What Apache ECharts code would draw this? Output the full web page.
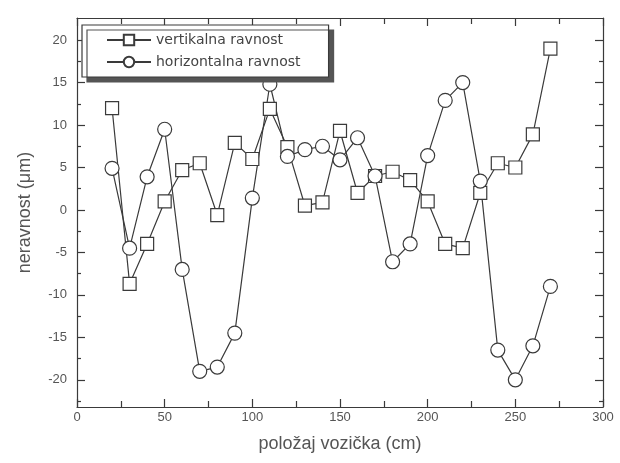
<!DOCTYPE html>
<html>
<head>
<meta charset="utf-8">
<script src="https://cdn.jsdelivr.net/npm/echarts@6/dist/echarts.min.js"></script>
<style>
  html, body { margin: 0; padding: 0; background: #fff; }
  #chart { width: 620px; height: 463px; }
</style>
</head>
<body>
<div id="chart"></div>
<script>
// polozaj vozicka (cm)
var positions = [20, 30, 40, 50, 60, 70, 80, 90, 100, 110, 120, 130, 140,
  150, 160, 170, 180, 190, 200, 210, 220, 230, 240, 250, 260, 270];
var vertikalna = [12, -8.7, -4, 1, 4.7, 5.5, -0.6, 7.9, 6, 11.9, 7.4, 0.5, 0.9,
  9.3, 2, 4, 4.5, 3.5, 1, -4, -4.5, 2, 5.5, 5, 8.9, 19];
var horizontalna = [4.9, -4.5, 3.9, 9.5, -7, -19, -18.5, -14.5, 1.4, 14.8, 6.3, 7.1, 7.5,
  5.9, 8.5, 4, -6.1, -4, 6.4, 12.9, 15, 3.4, -16.5, -20, -16, -9];
var yMajor = [-20, -15, -10, -5, 0, 5, 10, 15, 20];
var yMinor = [-22.5, -17.5, -12.5, -7.5, -2.5, 2.5, 7.5, 12.5, 17.5];

var ink = '#3a3a3a';
var yMin = -23.2, yMax = 22.6;

function pairs(ys) {
  return positions.map(function (x, i) { return [x, ys[i]]; });
}

function yAxis(side, ticks, len, labels) {
  return {
    type: 'value', position: side, min: yMin, max: yMax,
    axisLine: { show: labels, onZero: false, lineStyle: { color: ink, width: 1.2 } },
    axisTick: { show: true, inside: true, length: len, customValues: ticks,
      lineStyle: { color: ink, width: 1.2 } },
    axisLabel: { show: labels && side == 'left', customValues: ticks,
      color: '#555', fontSize: 13, fontFamily: 'Liberation Sans', margin: 10 },
    splitLine: { show: false },
    name: labels && side == 'left' ? 'neravnost (\u03bcm)' : '',
    nameLocation: 'middle', nameGap: 43,
    nameTextStyle: { color: '#555', fontSize: 18, fontFamily: 'Liberation Sans' }
  };
}

function xAxis(side) {
  return {
    type: 'value', position: side, min: 0, max: 300, interval: 50,
    axisLine: { onZero: false, lineStyle: { color: ink, width: 1.2 } },
    axisTick: { inside: true, length: 8, lineStyle: { color: ink, width: 1.2 } },
    minorTick: { show: true, splitNumber: 2, length: 6, lineStyle: { color: ink, width: 1.2 } },
    axisLabel: { show: side == 'bottom', color: '#555', fontSize: 13,
      fontFamily: 'Liberation Sans', margin: 4 },
    splitLine: { show: false },
    name: side == 'bottom' ? 'polo\u017eaj vozi\u010dka (cm)' : '',
    nameLocation: 'middle', nameGap: 28,
    nameTextStyle: { color: '#555', fontSize: 18, fontFamily: 'Liberation Sans' }
  };
}

var chart = echarts.init(document.getElementById('chart'));
chart.setOption({
  animation: false,
  backgroundColor: '#fff',
  grid: { left: 77, right: 17, top: 18, bottom: 56 },
  xAxis: [xAxis('bottom'), xAxis('top')],
  yAxis: [
    yAxis('left', yMajor, 8, true),
    yAxis('left', yMinor, 4, false),
    yAxis('right', yMajor, 8, true),
    yAxis('right', yMinor, 4, false)
  ],
  legend: {
    left: 82, top: 25, orient: 'vertical',
    padding: [8, 28, 8, 24], itemGap: 8, itemWidth: 44, itemHeight: 13,
    backgroundColor: '#fff', borderColor: ink, borderWidth: 1.2,
    shadowColor: '#555', shadowOffsetX: 5, shadowOffsetY: 5, shadowBlur: 0,
    textStyle: { color: '#444', fontSize: 14, fontFamily: 'DejaVu Sans' },
    data: ['vertikalna ravnost', 'horizontalna ravnost']
  },
  series: [
    {
      name: 'vertikalna ravnost', type: 'line', data: pairs(vertikalna),
      symbol: 'rect', symbolSize: 13,
      lineStyle: { color: ink, width: 1.2 },
      itemStyle: { color: '#fff', borderColor: ink, borderWidth: 1.2 }
    },
    {
      name: 'horizontalna ravnost', type: 'line', data: pairs(horizontalna),
      symbol: 'circle', symbolSize: 14,
      lineStyle: { color: ink, width: 1.2 },
      itemStyle: { color: '#fff', borderColor: ink, borderWidth: 1.2 }
    }
  ]
});
</script>
</body>
</html>
